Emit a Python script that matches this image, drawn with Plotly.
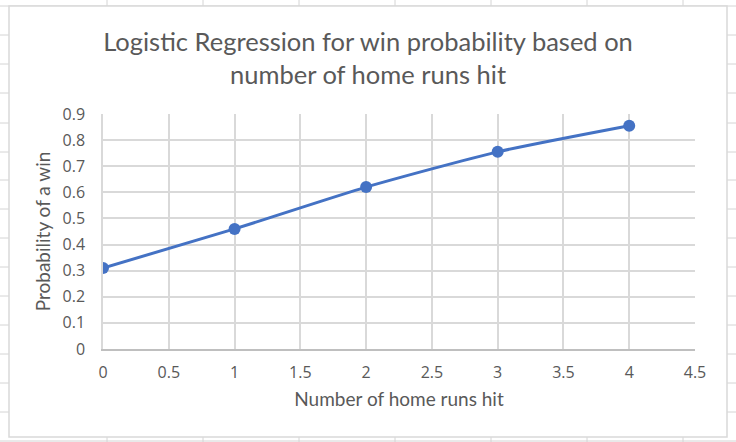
import plotly.graph_objects as go

# data
home_runs = [0, 1, 2, 3, 4]
win_prob = [0.31, 0.46, 0.62, 0.755, 0.855]

title_text = "Logistic Regression for win probability based on<br>number of home runs hit"
x_title = "Number of home runs hit"
y_title = "Probability of a win"

W, H = 736, 442
# plot area in pixels
L, R, T, B = 103, 695, 114, 349


def px(x):
    return (x - L) / (R - L)


def py(y):
    return (B - y) / (B - T)


fig = go.Figure()
fig.add_trace(go.Scatter(
    x=home_runs, y=win_prob,
    mode="lines+markers",
    line=dict(color="#4472C4", width=3, shape="spline", smoothing=0.6),
    marker=dict(color="#4472C4", size=12),
    showlegend=False,
))

# spreadsheet cells behind the chart object
shapes = []
for gx in [107, 203, 299, 395, 491, 587, 683]:
    shapes.append(dict(type="line", xref="paper", yref="paper",
                       x0=px(gx), x1=px(gx), y0=py(0), y1=py(H),
                       line=dict(color="#d4d4d4", width=1), layer="below"))
for gy in [6, 35, 64, 93, 123, 152, 180, 209, 238, 267, 296, 325, 354, 383, 412, 441]:
    shapes.append(dict(type="line", xref="paper", yref="paper",
                       x0=px(0), x1=px(W), y0=py(gy), y1=py(gy),
                       line=dict(color="#d4d4d4", width=1), layer="below"))
# chart frame
shapes.append(dict(type="rect", xref="paper", yref="paper",
                   x0=px(9), x1=px(727), y0=py(6), y1=py(437),
                   fillcolor="white", line=dict(color="#d9d9d9", width=1.5),
                   layer="below"))

fig.update_layout(
    width=W, height=H,
    margin=dict(l=L, r=W - R, t=T, b=H - B),
    paper_bgcolor="white",
    plot_bgcolor="rgba(0,0,0,0)",
    font=dict(family="Lato", color="#595959"),
    title=dict(text=title_text, x=368 / W, xref="container", xanchor="center",
               y=1 - 51 / H, yanchor="middle",
               font=dict(size=25.5, color="#595959")),
    shapes=shapes,
)

fig.update_xaxes(
    range=[0, 4.5], dtick=0.5, tick0=0,
    showgrid=True, gridcolor="#d9d9d9", gridwidth=1.5,
    showline=True, linecolor="#bfbfbf", linewidth=1.5,
    zeroline=False, ticks="", ticklabelstandoff=8,
    tickfont=dict(family="Open Sans", size=16, color="#595959"),
    title=dict(text=x_title, font=dict(size=19, color="#595959"), standoff=11),
)
fig.update_yaxes(
    range=[0, 0.9], dtick=0.1, tick0=0,
    showgrid=True, gridcolor="#d9d9d9", gridwidth=1.5,
    showline=True, linecolor="#d9d9d9", linewidth=1.5,
    zeroline=False, ticks="", ticklabelstandoff=13,
    tickfont=dict(family="Open Sans", size=16, color="#595959"),
    title=dict(text=y_title, font=dict(size=19, color="#595959"), standoff=7),
)

# drop the default body margin so the figure sits at the window corner
fig.write_html("out.html", config={"displayModeBar": False},
               post_script="document.body.style.margin='0';")
